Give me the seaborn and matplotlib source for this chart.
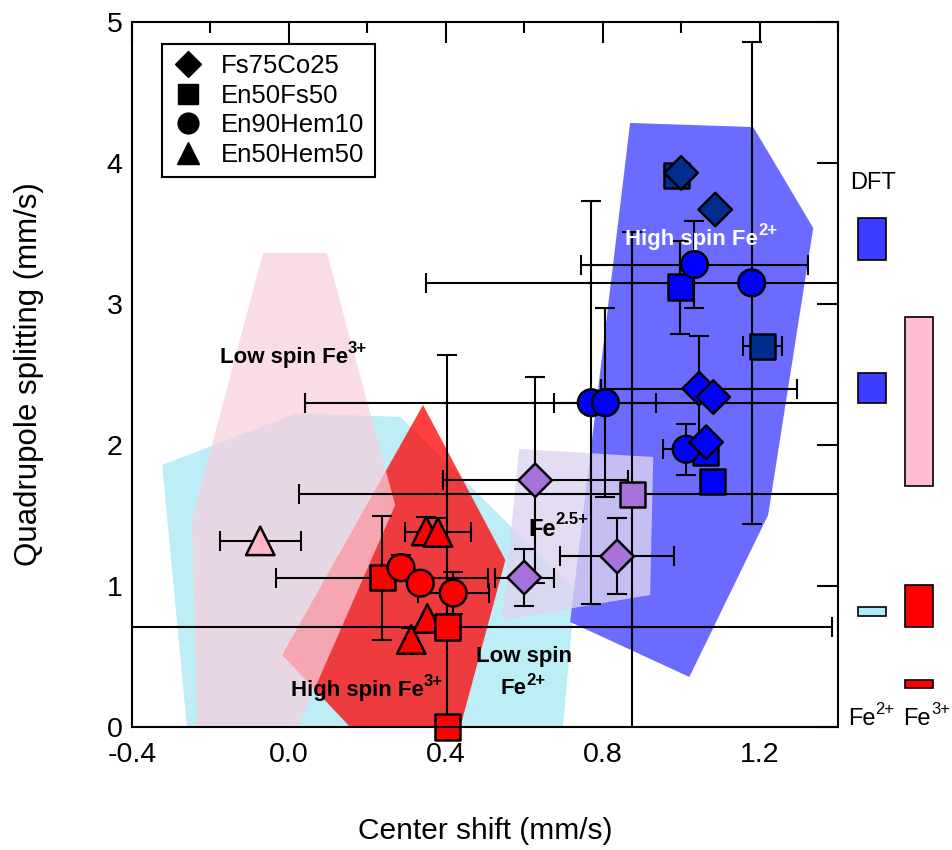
import matplotlib
matplotlib.use('Agg')
import matplotlib.pyplot as plt
import seaborn as sns
import pandas as pd
from matplotlib.lines import Line2D
from matplotlib.patches import Polygon
from matplotlib.ticker import MultipleLocator, FormatStrFormatter

# measured points: center shift / quadrupole splitting (mm/s)
sample = ['Fs75Co25'] * 8 + ['En50Fs50'] * 9 + ['En90Hem10'] * 8 + ['En50Hem50'] * 5
center_shift = [1.000, 1.087, 1.046, 1.082, 1.064, 0.628, 0.837, 0.600,
                0.988, 1.207, 0.998, 1.080, 1.062, 0.876, 0.238, 0.404, 0.404,
                1.034, 1.180, 0.771, 0.807, 1.013, 0.286, 0.335, 0.419,
                -0.073, 0.350, 0.380, 0.353, 0.312]
quad_split = [3.93, 3.67, 2.40, 2.34, 2.02, 1.75, 1.21, 1.06,
              3.91, 2.70, 3.12, 1.74, 1.95, 1.65, 1.06, 0.71, 0.00,
              3.28, 3.15, 2.30, 2.30, 1.97, 1.13, 1.02, 0.95,
              1.32, 1.39, 1.38, 0.77, 0.62]
cs_err = [0, 0, 0.25, 0, 0, 0.236, 0.145, 0.075,
          0, 0.05, 0, 0, 0, 0.85, 0.27, 0.98, 0,
          0.29, 0.83, 0.73, 0.13, 0.06, 0, 0, 0.09,
          0.103, 0, 0.085, 0, 0]
qs_err = [0, 0, 0.37, 0, 0, 0.73, 0.27, 0.20,
          0, 0.06, 0.33, 0, 0, 1.86, 0.44, 1.93, 0,
          0.31, 1.71, 1.43, 0.67, 0.18, 0.09, 0, 0.15,
          0, 0.10, 0.10, 0, 0.08]
NAVY, BLUE, PURPLE, RED, PINK = '#002d8f', '#0000ff', '#a672da', '#ff0000', '#ffb6cc'
colour = [NAVY, NAVY, BLUE, BLUE, BLUE, PURPLE, PURPLE, PURPLE,
          NAVY, NAVY, BLUE, BLUE, BLUE, PURPLE, RED, RED, RED,
          BLUE, BLUE, BLUE, BLUE, BLUE, RED, RED, RED,
          PINK, RED, RED, RED, RED]

# literature regions (polygon vertices, cs / qs)
lowspin_fe2_cs = [-0.323, 0.021, 0.284, 0.730, 0.699, -0.260]
lowspin_fe2_qs = [1.858, 2.227, 2.199, 0.972, 0.0, 0.0]
highspin_fe3_cs = [0.342, 0.552, 0.437, 0.156, -0.017]
highspin_fe3_qs = [2.284, 1.184, 0.0, 0.0, 0.511]
lowspin_fe3_cs = [-0.066, 0.097, 0.271, 0.023, -0.234, -0.247]
lowspin_fe3_qs = [3.362, 3.362, 1.574, 0.0, 0.0, 1.468]
highspin_fe2_cs = [0.870, 1.184, 1.337, 1.222, 1.021, 0.717]
highspin_fe2_qs = [4.284, 4.255, 3.539, 1.504, 0.355, 0.745]
mixed_cs = [0.587, 0.929, 0.921, 0.544]
mixed_qs = [1.972, 1.915, 0.936, 0.759]

# DFT quadrupole splitting ranges
dft_fe2_low = [3.31, 2.30, 0.79]
dft_fe2_high = [3.61, 2.51, 0.85]
dft_fe2_col = ['#3d3dff', '#3d3dff', '#b0eaf8']
dft_fe3_low = [1.71, 0.71, 0.28]
dft_fe3_high = [2.91, 1.01, 0.33]
dft_fe3_col = ['#ffbcd4', '#ff0000', '#ff0000']

markers = {'Fs75Co25': 'D', 'En50Fs50': 's', 'En90Hem10': 'o', 'En50Hem50': '^'}
msize = {'Fs75Co25': 290, 'En50Fs50': 330, 'En90Hem10': 370, 'En50Hem50': 420}
draw_order = ['En50Hem50', 'En50Fs50', 'En90Hem10', 'Fs75Co25']

sns.set_theme(style='white')
plt.rcParams['font.family'] = ['Liberation Sans', 'DejaVu Sans']
plt.rcParams['axes.unicode_minus'] = False
for key in ['text.color', 'axes.labelcolor', 'xtick.color', 'ytick.color',
            'axes.edgecolor']:
    plt.rcParams[key] = 'black'

df = pd.DataFrame({'sample': sample, 'cs': center_shift, 'qs': quad_split,
                   'cs_err': cs_err, 'qs_err': qs_err, 'colour': colour})

fig = plt.figure(figsize=(9.53, 8.5), dpi=100)
ax = fig.add_axes([0.1385, 0.1447, 0.7408, 0.8294])


def label(x, y, base, sup, color='black', weight='bold', size=16, supsize=12,
          ha='left'):
    t = ax.text(x, y, base, color=color, fontsize=size, fontweight=weight,
                ha=ha, va='center', zorder=9, clip_on=False)
    if sup:
        ax.annotate(sup, xy=(1.0, 0.92), xycoords=t, color=color, fontsize=supsize,
                    fontweight=weight, ha='left', va='center', zorder=9,
                    annotation_clip=False)
    return t


# shaded regions
regions = [(lowspin_fe2_cs, lowspin_fe2_qs, '#bdeef8', 1.0, 1),
           (highspin_fe3_cs, highspin_fe3_qs, '#ff0000', 0.75, 2),
           (lowspin_fe3_cs, lowspin_fe3_qs, '#f8cfdd', 0.73, 3),
           (highspin_fe2_cs, highspin_fe2_qs, '#6b6bff', 1.0, 4),
           (mixed_cs, mixed_qs, '#ddd4ef', 0.8, 5)]
for xs, ys, c, a, z in regions:
    ax.add_patch(Polygon(list(zip(xs, ys)), closed=True, facecolor=c, alpha=a,
                         edgecolor='none', zorder=z))

# error bars
for _, r in df.iterrows():
    if r.cs_err == 0 and r.qs_err == 0:
        continue
    ax.errorbar(r.cs, r.qs, xerr=r.cs_err if r.cs_err else None,
                yerr=r.qs_err if r.qs_err else None, fmt='none', ecolor='black',
                elinewidth=1.5, capsize=7, capthick=1.5, zorder=6)

# markers
for name in draw_order:
    sub = df[df['sample'] == name]
    sns.scatterplot(data=sub, x='cs', y='qs', hue='colour',
                    palette={c: c for c in sub['colour'].unique()},
                    marker=markers[name], s=msize[name], edgecolor='black',
                    linewidth=1.8, legend=False, zorder=7, clip_on=False, ax=ax)

# region labels
label(0.858, 3.46, 'High spin Fe', '2+', color='white')
label(-0.176, 2.62, 'Low spin Fe', '3+')
label(0.610, 1.40, 'Fe', '2.5+', size=17)
ax.text(0.600, 0.50, 'Low spin', fontsize=16, fontweight='bold', ha='center',
        va='center', zorder=9)
label(0.539, 0.27, 'Fe', '2+')
label(0.006, 0.26, 'High spin Fe', '3+')

# DFT columns outside the frame
ax.bar([1.487] * 3, [h - l for h, l in zip(dft_fe2_high, dft_fe2_low)],
       bottom=dft_fe2_low, width=0.071, color=dft_fe2_col, edgecolor='black',
       linewidth=1.2, clip_on=False)
ax.bar([1.607] * 3, [h - l for h, l in zip(dft_fe3_high, dft_fe3_low)],
       bottom=dft_fe3_low, width=0.071, color=dft_fe3_col, edgecolor='black',
       linewidth=1.2, clip_on=False)
ax.text(1.49, 3.86, 'DFT', fontsize=17, ha='center', va='center', clip_on=False)
label(1.425, 0.06, 'Fe', '2+', weight='normal', size=17, supsize=12)
label(1.567, 0.06, 'Fe', '3+', weight='normal', size=17, supsize=12)

# legend
handles = [Line2D([], [], marker=markers[n], color='black', linestyle='none',
                  markersize=ms) for n, ms in
           [('Fs75Co25', 13), ('En50Fs50', 14), ('En90Hem10', 15), ('En50Hem50', 16)]]
leg = ax.legend(handles, ['Fs75Co25', 'En50Fs50', 'En90Hem10', 'En50Hem50'],
                loc='upper left', bbox_to_anchor=(0.0425, 0.969), borderaxespad=0,
                fontsize=18.5, frameon=True, fancybox=False, framealpha=1,
                edgecolor='black', labelspacing=0.22, handlelength=1.2,
                handletextpad=0.7, borderpad=0.4, labelcolor='black')
leg.get_frame().set_linewidth(1.5)
leg.set_zorder(10)

ax.set_xlim(-0.4, 1.4)
ax.set_ylim(0, 5)
ax.xaxis.set_major_locator(MultipleLocator(0.4))
ax.xaxis.set_minor_locator(MultipleLocator(0.2))
ax.xaxis.set_major_formatter(FormatStrFormatter('%.1f'))
ax.yaxis.set_major_locator(MultipleLocator(1))
ax.tick_params(which='both', direction='in', top=True, right=True, width=1.5,
               labelsize=20.5, colors='black')
ax.tick_params(axis='x', which='major', length=15, pad=11)
ax.tick_params(axis='y', which='major', length=15, pad=7)
ax.tick_params(which='minor', length=8)
for sp in ax.spines.values():
    sp.set_linewidth(1.5)
    sp.set_color('black')
    sp.set_zorder(11)

ax.set_xlabel('Center shift (mm/s)', fontsize=21.5)
ax.set_ylabel('Quadrupole splitting (mm/s)', fontsize=22.5)
ax.xaxis.set_label_coords(0.5, -0.128)
ax.yaxis.set_label_coords(-0.125, 0.5)

fig.savefig('out.png', dpi=100)
